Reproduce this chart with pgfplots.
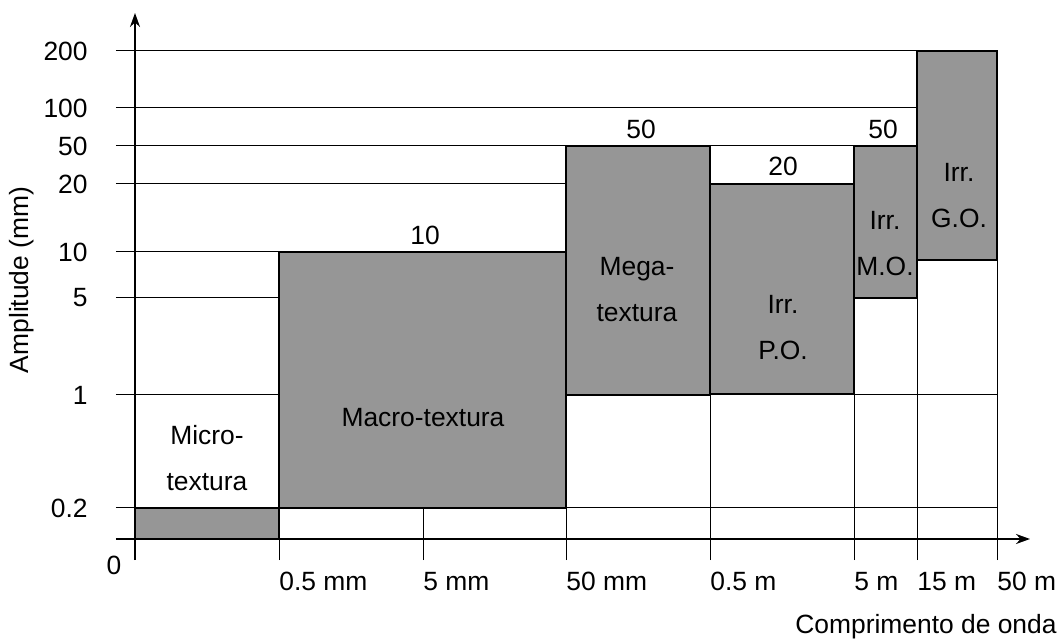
\documentclass[border=0pt]{standalone}
\usepackage{pgfplots}
\pgfplotsset{compat=1.18}
\usetikzlibrary{arrows.meta}
\usepackage{fontspec}
\setmainfont{Liberation Sans}
\definecolor{boxgray}{HTML}{969696}

\begin{document}
\begin{tikzpicture}[font=\fontsize{13.2}{15}\selectfont]
\begin{axis}[
    x=0.5pt, y=0.5pt,
    xmin=-19, xmax=895, ymin=-21, ymax=526,
    axis lines=middle,
    axis line style={line width=1pt, -{Stealth[length=7pt,width=5pt]}},
    clip=false,
    major tick length=0pt,
    xtick={144,288,431,575,719,782,862},
    xticklabels={0.5 mm,5 mm,50 mm,0.5 m,5 m,15 m,50 m},
    xticklabel style={anchor=base west, inner sep=0pt, yshift=-25.5pt},
    ytick={31,144,241,287,355,393,431,488},
    yticklabels={0.2,1,5,10,20,50,100,200},
    yticklabel style={anchor=east, inner sep=0pt, xshift=-23.5pt},
    /pgf/number format/assume math mode=true,
    xlabel={Comprimento de onda},
    ylabel={Amplitude (mm)},
    xlabel style={at={(axis description cs:1.0295,-0.1335)}, anchor=base east, inner sep=0pt},
    ylabel style={at={(axis description cs:-0.1028,0.512)}, anchor=center, rotate=0, inner sep=0pt},
    every axis y label/.style={at={(axis description cs:-0.1028,0.512)}, anchor=center, rotate=90, inner sep=0pt},
]

% grid lines (thin)
\pgfplotsset{gl/.style={black, line width=0.5pt, forget plot}}
\addplot[gl] coordinates {(-19,488) (782,488)};
\addplot[gl] coordinates {(-19,431) (782,431)};
\addplot[gl] coordinates {(-19,393) (782,393)};
\addplot[gl] coordinates {(-19,355) (431,355)};
\addplot[gl] coordinates {(-19,287) (144,287)};
\addplot[gl] coordinates {(-19,241) (144,241)};
\addplot[gl] coordinates {(-19,144) (144,144)};
\addplot[gl] coordinates {(719,144) (862,144)};
\addplot[gl] coordinates {(-19,31) (862,31)};
\addplot[gl] coordinates {(144,-21) (144,287)};
\addplot[gl] coordinates {(288,-21) (288,31)};
\addplot[gl] coordinates {(431,-21) (431,393)};
\addplot[gl] coordinates {(575,-21) (575,393)};
\addplot[gl] coordinates {(719,-21) (719,393)};
\addplot[gl] coordinates {(782,-21) (782,488)};
\addplot[gl] coordinates {(862,-21) (862,488)};

% boxes
\pgfplotsset{bx/.style={fill=boxgray, draw=black, line width=1pt, forget plot}}
\addplot[bx] coordinates {(0,0) (144,0) (144,31) (0,31)} -- cycle;
\addplot[bx] coordinates {(144,31) (431,31) (431,287) (144,287)} -- cycle;
\addplot[bx] coordinates {(431,144) (575,144) (575,393) (431,393)} -- cycle;
\addplot[bx] coordinates {(575,145) (719,145) (719,355) (575,355)} -- cycle;
\addplot[bx] coordinates {(719,241) (782,241) (782,393) (719,393)} -- cycle;
\addplot[bx] coordinates {(782,279) (862,279) (862,488) (782,488)} -- cycle;

% labels
\tikzset{bl/.style={align=center, font=\fontsize{13.2}{23}\selectfont}}
\node[bl] at (axis cs:72,81) {Micro-\\textura};
\node[bl] at (axis cs:288,121) {Macro-textura};
\node[bl] at (axis cs:502,249) {Mega-\\textura};
\node[bl] at (axis cs:648,211) {Irr.\\P.O.};
\node[bl] at (axis cs:750,295) {Irr.\\M.O.};
\node[bl] at (axis cs:824,343) {Irr.\\G.O.};
\node at (axis cs:290,304) {10};
\node at (axis cs:506,410) {50};
\node at (axis cs:648,373) {20};
\node at (axis cs:748,410) {50};
\node at (axis cs:-21,-26) {0};

\path (axis cs:-135,-103) rectangle (axis cs:924,539);
\end{axis}
\end{tikzpicture}
\end{document}
